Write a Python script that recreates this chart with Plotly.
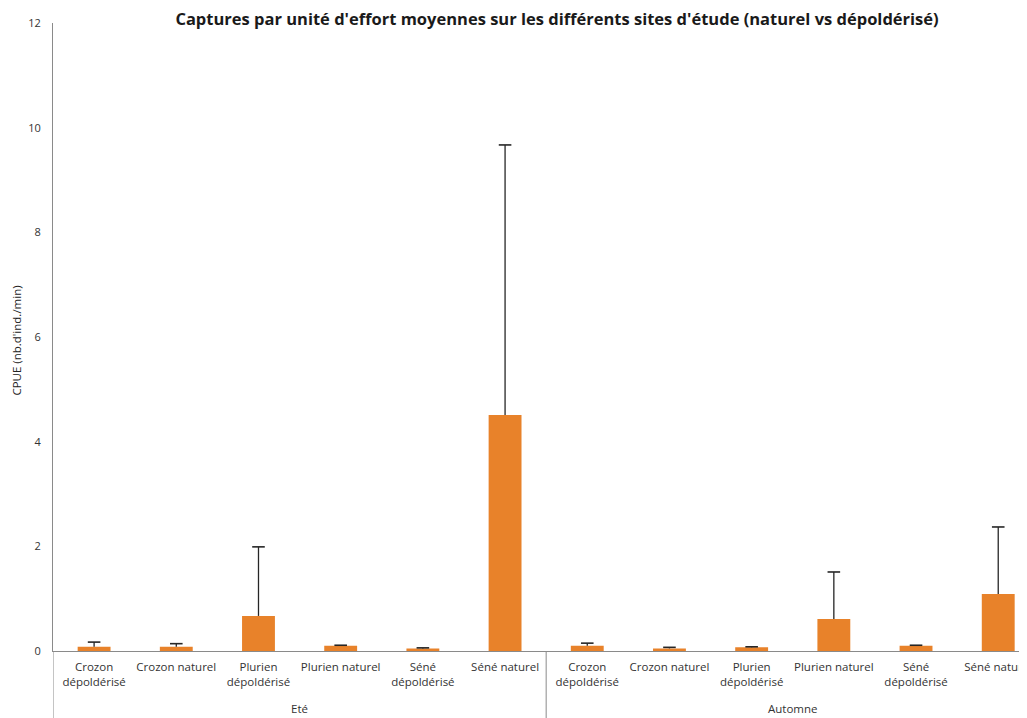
import plotly.graph_objects as go

seasons = ["Eté", "Automne"]
sites = ["Crozon<br>dépoldérisé", "Crozon naturel", "Plurien<br>dépoldérisé",
         "Plurien naturel", "Séné<br>dépoldérisé", "Séné naturel"]
categories = sites + sites
cpue_mean = [0.08, 0.08, 0.67, 0.10, 0.05, 4.51,
             0.10, 0.05, 0.07, 0.61, 0.10, 1.09]
cpue_upper = [0.17, 0.14, 1.99, 0.11, 0.06, 9.67,
              0.15, 0.07, 0.08, 1.51, 0.11, 2.37]
y_ticks = [0, 2, 4, 6, 8, 10, 12]

xs = list(range(len(categories)))

fig = go.Figure()
fig.add_trace(go.Bar(
    x=xs, y=cpue_mean, width=0.4,
    marker=dict(color="#E8822A", line=dict(width=0)),
    showlegend=False, hoverinfo="y",
))

# error bars (upper only)
ex, ey = [], []
for x, m, u in zip(xs, cpue_mean, cpue_upper):
    ex += [x, x, None]
    ey += [m, u, None]
fig.add_trace(go.Scatter(x=ex, y=ey, mode="lines",
                         line=dict(color="#262626", width=1.3),
                         showlegend=False, hoverinfo="skip"))
fig.add_trace(go.Scatter(x=xs, y=cpue_upper, mode="markers",
                         marker=dict(symbol="line-ew", size=9,
                                     line=dict(color="#262626", width=1.6)),
                         showlegend=False, hoverinfo="skip"))

font_main = "Open Sans, Lato, sans-serif"

# the page body adds an 8px offset; the figure is sized to compensate
fig.update_layout(
    width=1019, height=710,
    margin=dict(l=45, r=0, t=15, b=67, autoexpand=False),
    paper_bgcolor="white", plot_bgcolor="white",
    title=dict(text="<b>Captures par unité d'effort moyennes sur les différents sites d'étude (naturel vs dépoldérisé)</b>",
               x=0.5388, xanchor="center", y=0.9845, yanchor="middle",
               xref="container", yref="container", automargin=False,
               font=dict(family="Open Sans, sans-serif", size=16.5, color="#1a1a1a")),
    xaxis=dict(range=[-0.5, 11.35], tickmode="array", tickvals=xs, ticktext=categories,
               showgrid=False, zeroline=False, showline=True, linecolor="#8a8a8a", linewidth=1,
               ticks="", ticklabelstandoff=5, automargin=False, ticklabeloverflow="allow",
               tickfont=dict(family=font_main, size=11.5, color="#333333")),
    yaxis=dict(range=[0, 12], tickmode="array", tickvals=y_ticks,
               showgrid=False, zeroline=False, showline=True, linecolor="#8a8a8a", linewidth=1,
               ticks="", ticklabelstandoff=9, automargin=False, ticklabeloverflow="allow",
               tickfont=dict(family=font_main, size=11, color="#333333")),
)

# group labels
for i, s in enumerate(seasons):
    fig.add_annotation(x=2.5 + 6 * i, y=-0.0908, xref="x", yref="paper",
                       text=s, showarrow=False, xanchor="center", yanchor="middle",
                       font=dict(family=font_main, size=11.5, color="#333333"))

# group dividers extending below the axis
for xv in [-0.5, 5.5]:
    fig.add_shape(type="line", xref="x", yref="paper", x0=xv, x1=xv, y0=0, y1=-0.2,
                  line=dict(color="#8a8a8a", width=1))

# y-axis title
fig.add_annotation(x=-0.0375, y=0.495, xref="paper", yref="paper",
                   text="CPUE (nb.d'ind./min)", textangle=-90, showarrow=False,
                   xanchor="center", yanchor="middle",
                   font=dict(family=font_main, size=11.5, color="#222222"))

fig.write_html("out.html")
